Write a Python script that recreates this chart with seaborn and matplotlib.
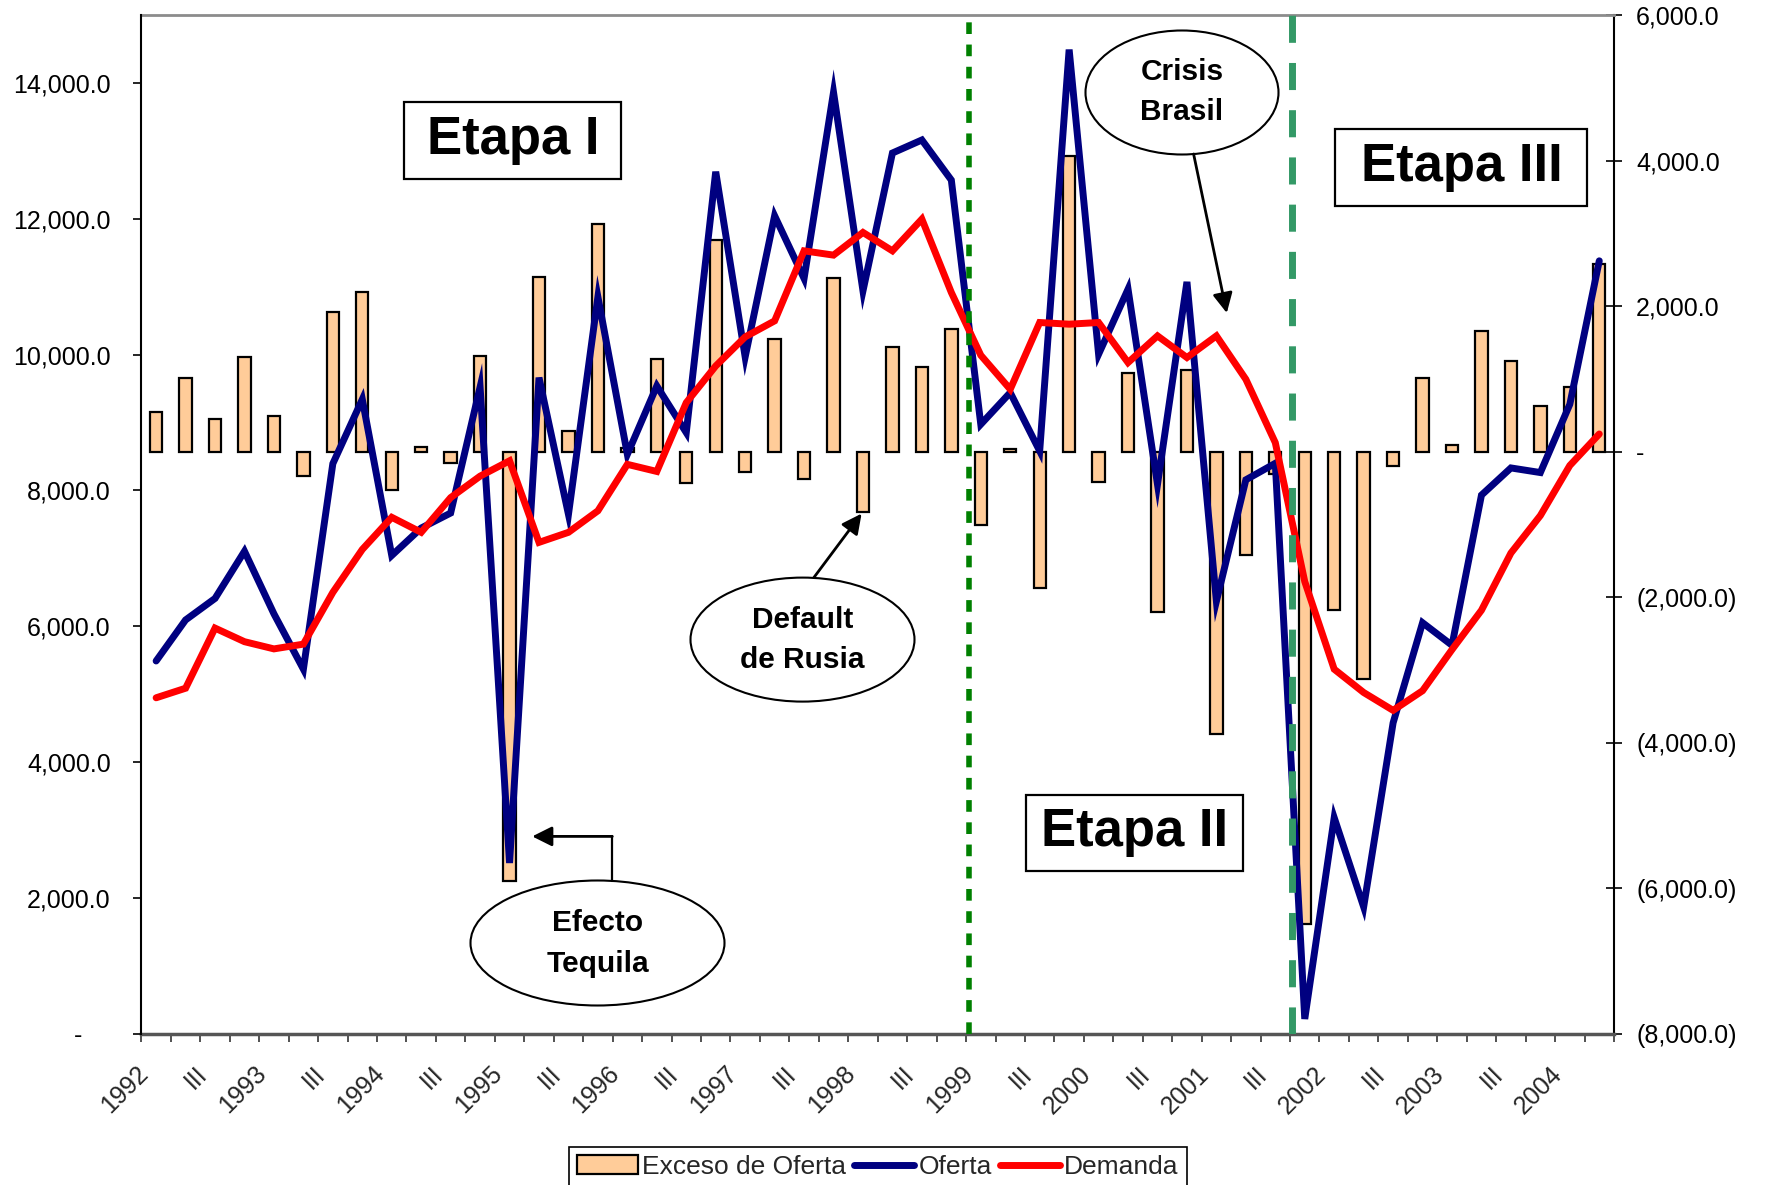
import numpy as np
import pandas as pd
import matplotlib
matplotlib.use("Agg")
import matplotlib.pyplot as plt
import matplotlib.transforms as mtransforms
import seaborn as sns
from matplotlib.patches import Ellipse, Rectangle, Patch, FancyArrowPatch
from matplotlib.lines import Line2D
from matplotlib.ticker import FuncFormatter

# ---------------- data (quarterly, 1992-I .. 2004-II) ----------------
oferta = [5490, 6094, 6411, 7105, 6184, 5369, 8395, 9342, 7043, 7447,
          7668, 9524, 2516, 9662, 7648, 10850, 8532, 9539, 8852, 12693,
          9966, 12044, 11121, 13862, 10939, 12968, 13160, 12570, 8974, 9441,
          8581, 14491, 10006, 10964, 8090, 11071, 6369, 8157, 8400, 220,
          3183, 1869, 4579, 6053, 5721, 7932, 8332, 8264, 9269, 11381]

demanda = [4948, 5089, 5974, 5774, 5668, 5738, 6500, 7132, 7605, 7384,
           7895, 8211, 8437, 7236, 7384, 7701, 8385, 8280, 9293, 9833,
           10261, 10497, 11528, 11465, 11799, 11528, 11995, 10915, 9991, 9490,
           10473, 10448, 10473, 9883, 10276, 9957, 10276, 9637, 8704, 6659,
           5369, 5026, 4763, 5052, 5658, 6237, 7079, 7631, 8368, 8832]

exceso = [550, 1018, 444, 1301, 490, -340, 1920, 2195, -532, 66,
          -150, 1320, -5894, 2402, 284, 3127, 50, 1270, -425, 2906,
          -279, 1555, -372, 2393, -826, 1439, 1164, 1683, -1008, 40,
          -1872, 4056, -420, 1087, -2201, 1119, -3885, -1425, -300, -6495,
          -2176, -3123, -202, 1018, 85, 1659, 1247, 628, 889, 2576]

tick_labels = ["1992", "III", "1993", "III", "1994", "III", "1995", "III",
               "1996", "III", "1997", "III", "1998", "III", "1999", "III",
               "2000", "III", "2001", "III", "2002", "III", "2003", "III", "2004"]

legend_labels = ["Exceso de Oferta", "Oferta", "Demanda"]

# ---------------- styling ----------------
sns.set_theme(style="ticks")
plt.rcParams["font.family"] = ["Liberation Sans", "DejaVu Sans"]

W, H = 1769, 1185
fig = plt.figure(figsize=(W / 100, H / 100), dpi=100)
fig.patch.set_facecolor("white")


def fx(x):
    return x / W


def fy(y):
    return 1 - y / H


left, right, top, bottom = 141.4, 1614, 15, 1033.9
ax = fig.add_axes([fx(left), fy(bottom), (right - left) / W, (bottom - top) / H])

n = len(oferta)
df = pd.DataFrame({"idx": np.arange(n), "oferta": oferta,
                   "demanda": demanda, "exceso": exceso})

BAR_COLOR = "#FFCC99"
BLUE = "#000080"
RED = "#FF0000"

sns.barplot(data=df, x="idx", y="exceso", ax=ax, color=BAR_COLOR, saturation=1,
            edgecolor="black", linewidth=1.6, width=0.42, errorbar=None)
ax.set_ylim(-8000, 6000)
ax.set_xlim(-0.5, n - 0.5)

ax2 = ax.twinx()
sns.lineplot(data=df, x="idx", y="oferta", ax=ax2, color=BLUE, linewidth=5,
             solid_capstyle="round", solid_joinstyle="miter")
sns.lineplot(data=df, x="idx", y="demanda", ax=ax2, color=RED, linewidth=5,
             solid_capstyle="round", solid_joinstyle="miter")
ax2.set_ylim(0, 15000)
ax2.set_xlim(-0.5, n - 0.5)

# vertical stage separators
ax2.axvline(27.59, color="#008000", linewidth=4, linestyle=(0, (2.1, 1.9)), zorder=5)
ax2.axvline(38.55, color="#339966", linewidth=5, linestyle=(0, (3.9, 2.9)), zorder=5)

for a in (ax, ax2):
    a.set_xlabel("")
    a.set_ylabel("")

# axis sides
ax.yaxis.tick_right()
ax2.yaxis.tick_left()


def fmt_right(v, pos):
    if abs(v) < 1e-9:
        return "-"
    if v < 0:
        return f"({abs(v):,.1f})"
    return f"{v:,.1f}"


def fmt_left(v, pos):
    if abs(v) < 1e-9:
        return "-    "
    return f"{v:,.1f}"


ax.set_yticks(np.arange(-8000, 6001, 2000))
ax.yaxis.set_major_formatter(FuncFormatter(fmt_right))
ax.tick_params(axis="y", which="major", right=True, left=False, direction="inout",
               length=12, width=1.2, labelsize=18, pad=10, colors="black")

ax2.set_yticks(np.arange(0, 14001, 2000))
ax2.yaxis.set_major_formatter(FuncFormatter(fmt_left))
ax2.tick_params(axis="y", which="major", left=True, right=False, direction="out",
                length=6, width=1.2, labelsize=18, pad=16, colors="black")

# x axis: ticks at category boundaries, labels every two quarters
ax.set_xticks(np.arange(0, n, 2))
ax.set_xticklabels(tick_labels, rotation=45, ha="right", va="top",
                   rotation_mode="anchor", fontsize=18)
ax.set_xticks(np.arange(-0.5, n, 1), minor=True)
ax.tick_params(axis="x", which="major", length=0, pad=20, bottom=True)
ax.tick_params(axis="x", which="minor", length=6, width=1.2, direction="out",
               bottom=True, color="#333333")
ax2.tick_params(axis="x", which="both", bottom=False, top=False, labelbottom=False)
shift = mtransforms.ScaledTranslation(-0.2, 0, fig.dpi_scale_trans)
for lbl in ax.get_xticklabels():
    lbl.set_transform(lbl.get_transform() + shift)

# spines
for s in ax2.spines.values():
    s.set_visible(False)
ax2.spines["left"].set_visible(True)
ax2.spines["left"].set_color("black")
ax2.spines["left"].set_linewidth(1.5)
ax.spines["left"].set_visible(False)
ax.spines["right"].set_visible(True)
ax.spines["right"].set_color("black")
ax.spines["right"].set_linewidth(1.5)
ax.spines["top"].set_visible(True)
ax.spines["top"].set_color("#8c8c8c")
ax.spines["top"].set_linewidth(2)
ax.spines["bottom"].set_color("#555555")
ax.spines["bottom"].set_linewidth(2.5)
ax.set_facecolor("white")

# ---------------- annotations ----------------
boxes = [("Etapa I", 404, 102, 621, 179, 513, 154),
         ("Etapa II", 1026, 795, 1243, 871, 1134.5, 846),
         ("Etapa III", 1335, 129, 1587, 206, 1461.6, 181)]
for label, x0, y0, x1, y1, cx, base in boxes:
    fig.add_artist(Rectangle((fx(x0), fy(y1)), (x1 - x0) / W, (y1 - y0) / H,
                             transform=fig.transFigure, facecolor="white",
                             edgecolor="black", linewidth=1.6, zorder=2))
    fig.text(fx(cx), fy(base), label, ha="center", va="baseline", fontsize=38,
             fontweight="bold", color="black", zorder=3)

ellipses = [(1182, 92.5, 193, 124, [("Crisis", 80), ("Brasil", 120)]),
            (802.5, 639.6, 224, 124, [("Default", 627.5), ("de Rusia", 668)]),
            (597.5, 943, 254, 125, [("Efecto", 931.4), ("Tequila", 972)])]
for cx, cy, w, h, lines in ellipses:
    fig.add_artist(Ellipse((fx(cx), fy(cy)), w / W, h / H, transform=fig.transFigure,
                           facecolor="white", edgecolor="black", linewidth=1.5, zorder=2))
    for txt, base in lines:
        fig.text(fx(cx), fy(base), txt, ha="center", va="baseline", fontsize=21.5,
                 fontweight="bold", color="black", zorder=3)


def arrow(p0, p1):
    fig.add_artist(FancyArrowPatch((fx(p0[0]), fy(p0[1])), (fx(p1[0]), fy(p1[1])),
                                   transform=fig.transFigure, arrowstyle="-|>",
                                   mutation_scale=30, linewidth=2, color="black",
                                   shrinkA=0, shrinkB=0, zorder=3))


arrow((1193.6, 154), (1226.8, 313))
arrow((813.9, 577.5), (861.6, 513.6))
fig.add_artist(Line2D([fx(611.5), fx(611.5)], [fy(881), fy(836.4)],
                      transform=fig.transFigure, color="black", linewidth=1.6, zorder=3))
arrow((612.3, 836.4), (532.2, 836.4))

# ---------------- legend ----------------
handles = [Patch(facecolor=BAR_COLOR, edgecolor="black", linewidth=1.6),
           Line2D([], [], color=BLUE, linewidth=5),
           Line2D([], [], color=RED, linewidth=5)]
leg = fig.legend(handles, legend_labels, loc="upper center",
                 bbox_to_anchor=(fx(878), fy(1147)), ncol=3, frameon=True,
                 fancybox=False, edgecolor="black", framealpha=1, fontsize=19,
                 handlelength=2.3, handletextpad=0.15, columnspacing=0.3,
                 borderpad=0.3, borderaxespad=0)
leg.get_frame().set_linewidth(1.2)

fig.savefig("out.png", dpi=100, facecolor="white")
